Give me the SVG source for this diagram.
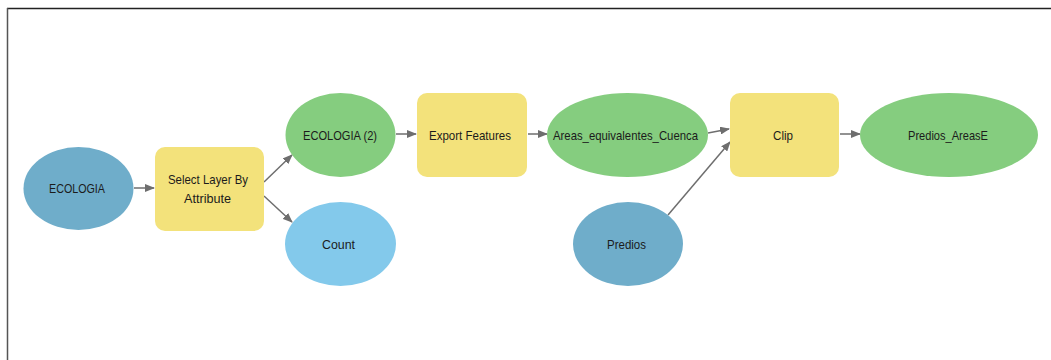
<svg xmlns="http://www.w3.org/2000/svg" width="1051" height="360" viewBox="0 0 1051 360">
<defs>
<marker id="ah" markerWidth="10" markerHeight="8" refX="9" refY="4" orient="auto" markerUnits="userSpaceOnUse">
<path d="M0,0 L10,4 L0,8 Z" fill="#6e6e6e"/>
</marker>
<style>
.lbl{font-family:"Liberation Sans",Arial,sans-serif;font-size:13.5px;fill:#1b1b1b;text-anchor:middle}
.ds{fill:#6fadca}
.der{fill:#85cd7f}
.var{fill:#83c9eb}
.tool{fill:#f3e27b}
.con{stroke:#6e6e6e;stroke-width:1.5;fill:none;marker-end:url(#ah)}
</style>
</defs>
<rect width="1051" height="360" fill="#ffffff"/>
<line x1="7" y1="8.5" x2="1051" y2="8.5" stroke="#222" stroke-width="1.5"/>
<line x1="7.5" y1="8" x2="7.5" y2="360" stroke="#555" stroke-width="1.5"/>
<g id="connectors">
<line class="con" x1="134" y1="188" x2="154" y2="188"/>
<line class="con" x1="264" y1="182" x2="292" y2="155"/>
<line class="con" x1="264" y1="196" x2="292" y2="222"/>
<line class="con" x1="396" y1="134" x2="416" y2="134"/>
<line class="con" x1="528" y1="134" x2="547" y2="134"/>
<line class="con" x1="708" y1="133" x2="729" y2="129"/>
<line class="con" x1="668" y1="215" x2="730" y2="142"/>
<line class="con" x1="840" y1="134" x2="860" y2="134"/>
</g>
<g id="ECOLOGIA">
<ellipse class="ds" cx="78.5" cy="188.5" rx="55" ry="41.5"/>
<text class="lbl" x="77" y="193" textLength="56" lengthAdjust="spacingAndGlyphs">ECOLOGIA</text>
</g>
<g id="SelectLayerByAttribute">
<rect class="tool" x="155" y="147" width="109" height="84" rx="10"/>
<text class="lbl" x="208" y="184" textLength="80" lengthAdjust="spacingAndGlyphs">Select Layer By</text>
<text class="lbl" x="207.5" y="203" textLength="47" lengthAdjust="spacingAndGlyphs">Attribute</text>
</g>
<g id="ECOLOGIA2">
<ellipse class="der" cx="340.5" cy="135" rx="55" ry="42"/>
<text class="lbl" x="340" y="139.5" textLength="74" lengthAdjust="spacingAndGlyphs">ECOLOGIA (2)</text>
</g>
<g id="Count">
<ellipse class="var" cx="340.5" cy="244" rx="55.5" ry="42"/>
<text class="lbl" x="338.5" y="248.5" textLength="33" lengthAdjust="spacingAndGlyphs">Count</text>
</g>
<g id="ExportFeatures">
<rect class="tool" x="417" y="93" width="110" height="84" rx="10"/>
<text class="lbl" x="470" y="139.5" textLength="82" lengthAdjust="spacingAndGlyphs">Export Features</text>
</g>
<g id="Areas_equivalentes_Cuenca">
<ellipse class="der" cx="627.5" cy="135" rx="80.5" ry="42"/>
<text class="lbl" x="625.5" y="139.5" textLength="145" lengthAdjust="spacingAndGlyphs">Areas_equivalentes_Cuenca</text>
</g>
<g id="Predios">
<ellipse class="ds" cx="628" cy="244" rx="55" ry="42"/>
<text class="lbl" x="626.5" y="248.5" textLength="39" lengthAdjust="spacingAndGlyphs">Predios</text>
</g>
<g id="Clip">
<rect class="tool" x="730" y="93" width="109" height="84" rx="10"/>
<text class="lbl" x="783" y="139.5" textLength="20" lengthAdjust="spacingAndGlyphs">Clip</text>
</g>
<g id="Predios_AreasE">
<ellipse class="der" cx="949" cy="135" rx="89" ry="42"/>
<text class="lbl" x="948" y="139.5" textLength="80" lengthAdjust="spacingAndGlyphs">Predios_AreasE</text>
</g>
</svg>
